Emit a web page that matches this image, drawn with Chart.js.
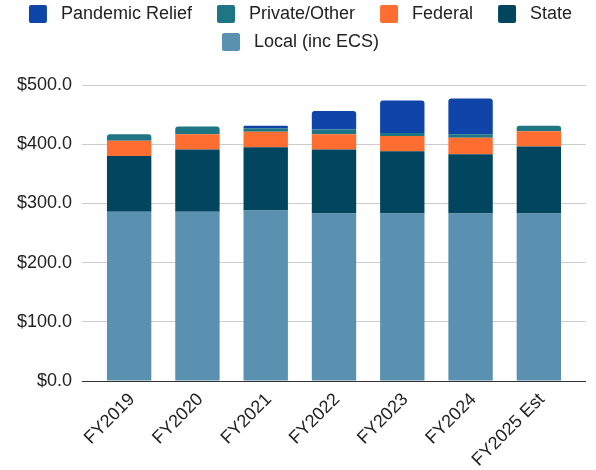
<!DOCTYPE html>
<html>
<head>
<meta charset="utf-8">
<script src="https://cdn.jsdelivr.net/npm/chart.js@4.4.1/dist/chart.umd.min.js"></script>
<style>
    body { margin: 0; background: #fff; }
    #wrap { width: 596px; height: 470px; }
</style>
</head>
<body>
<div id="wrap"><canvas id="fundingChart" width="596" height="470"></canvas></div>
<script>
// values in $ millions
const years = ['FY2019', 'FY2020', 'FY2021', 'FY2022', 'FY2023', 'FY2024', 'FY2025 Est'];
const localFunds = [286, 286, 288, 283, 283, 283, 283];
const stateFunds = [94, 105, 107, 108, 105, 100, 113];
const federalFunds = [26, 26, 26, 26, 26, 28, 26];
const privateFunds = [11, 13, 6, 8, 5, 6, 9];
const pandemicFunds = [0, 0, 4, 31, 55, 60, 0];
const yTicks = [0, 100, 200, 300, 400, 500];

const FONT = "'Liberation Sans', Arial, sans-serif";
const colors = ['#5a91b0', '#01455f', '#ff6d31', '#1e7684', '#0f45a8'];

// legend squares drawn on a small canvas so the spacing matches
function swatch(color) {
    const c = document.createElement('canvas');
    c.width = 38;
    c.height = 18;
    const g = c.getContext('2d');
    g.fillStyle = color;
    g.beginPath();
    g.roundRect(15, 0, 18, 18, 2);
    g.fill();
    return c;
}
const swatches = colors.map(swatch);

const gridColor = (ctx) => ctx.tick && ctx.tick.value === 0 ? '#333333' : '#cccccc';

// space between legend and plot
const legendGap = {
    id: 'legendGap',
    beforeInit(chart) {
        const fitLegend = chart.legend.fit;
        chart.legend.fit = function () {
            fitLegend.call(this);
            this.height += 24;
        };
    }
};

document.addEventListener('DOMContentLoaded', () => {
    const ctx = document.getElementById('fundingChart').getContext('2d');

    new Chart(ctx, {
        type: 'bar',
        data: {
            labels: years,
            datasets: [
                { label: 'Local (inc ECS)', data: localFunds, backgroundColor: colors[0], borderRadius: 0 },
                { label: 'State', data: stateFunds, backgroundColor: colors[1], borderRadius: 0 },
                { label: 'Federal', data: federalFunds, backgroundColor: colors[2], borderRadius: 0 },
                { label: 'Private/Other', data: privateFunds, backgroundColor: colors[3], borderRadius: 3 },
                { label: 'Pandemic Relief', data: pandemicFunds, backgroundColor: colors[4], borderRadius: 3 }
            ]
        },
        options: {
            responsive: false,
            animation: false,
            layout: { padding: { top: -5, left: 0, right: 10, bottom: 4 } },
            datasets: {
                bar: { categoryPercentage: 1, barPercentage: 0.65 }
            },
            plugins: {
                tooltip: { enabled: false },
                legend: {
                    position: 'top',
                    reverse: true,
                    labels: {
                        usePointStyle: true,
                        pointStyleWidth: 38,
                        boxHeight: 18,
                        padding: 10,
                        color: '#222222',
                        font: { family: FONT, size: 18 },
                        generateLabels(chart) {
                            const items = Chart.defaults.plugins.legend.labels.generateLabels(chart);
                            items.forEach(it => { it.pointStyle = swatches[it.datasetIndex]; });
                            return items;
                        }
                    }
                }
            },
            scales: {
                x: {
                    stacked: true,
                    afterFit(scale) { scale.height = 85; },
                    grid: { display: false },
                    border: { display: false },
                    ticks: {
                        minRotation: 45,
                        maxRotation: 45,
                        padding: 0,
                        labelOffset: 3,
                        color: '#222222',
                        font: { family: FONT, size: 18 }
                    }
                },
                y: {
                    stacked: true,
                    min: 0,
                    max: 500,
                    afterFit(scale) { scale.width = 95; },
                    afterBuildTicks(scale) { scale.ticks = yTicks.map(v => ({ value: v })); },
                    border: { display: false },
                    grid: { color: gridColor, tickLength: 13, lineWidth: 1 },
                    ticks: {
                        padding: 10,
                        color: '#222222',
                        font: { family: FONT, size: 18 },
                        callback: (v) => '$' + Number(v).toFixed(1)
                    }
                },
                y2: {
                    position: 'right',
                    min: 0,
                    max: 500,
                    afterFit(scale) { scale.width = 13; },
                    afterBuildTicks(scale) { scale.ticks = yTicks.map(v => ({ value: v })); },
                    border: { display: false },
                    grid: { color: gridColor, tickLength: 13, drawOnChartArea: false },
                    ticks: { display: false }
                }
            }
        },
        plugins: [legendGap]
    });
});
</script>
</body>
</html>
